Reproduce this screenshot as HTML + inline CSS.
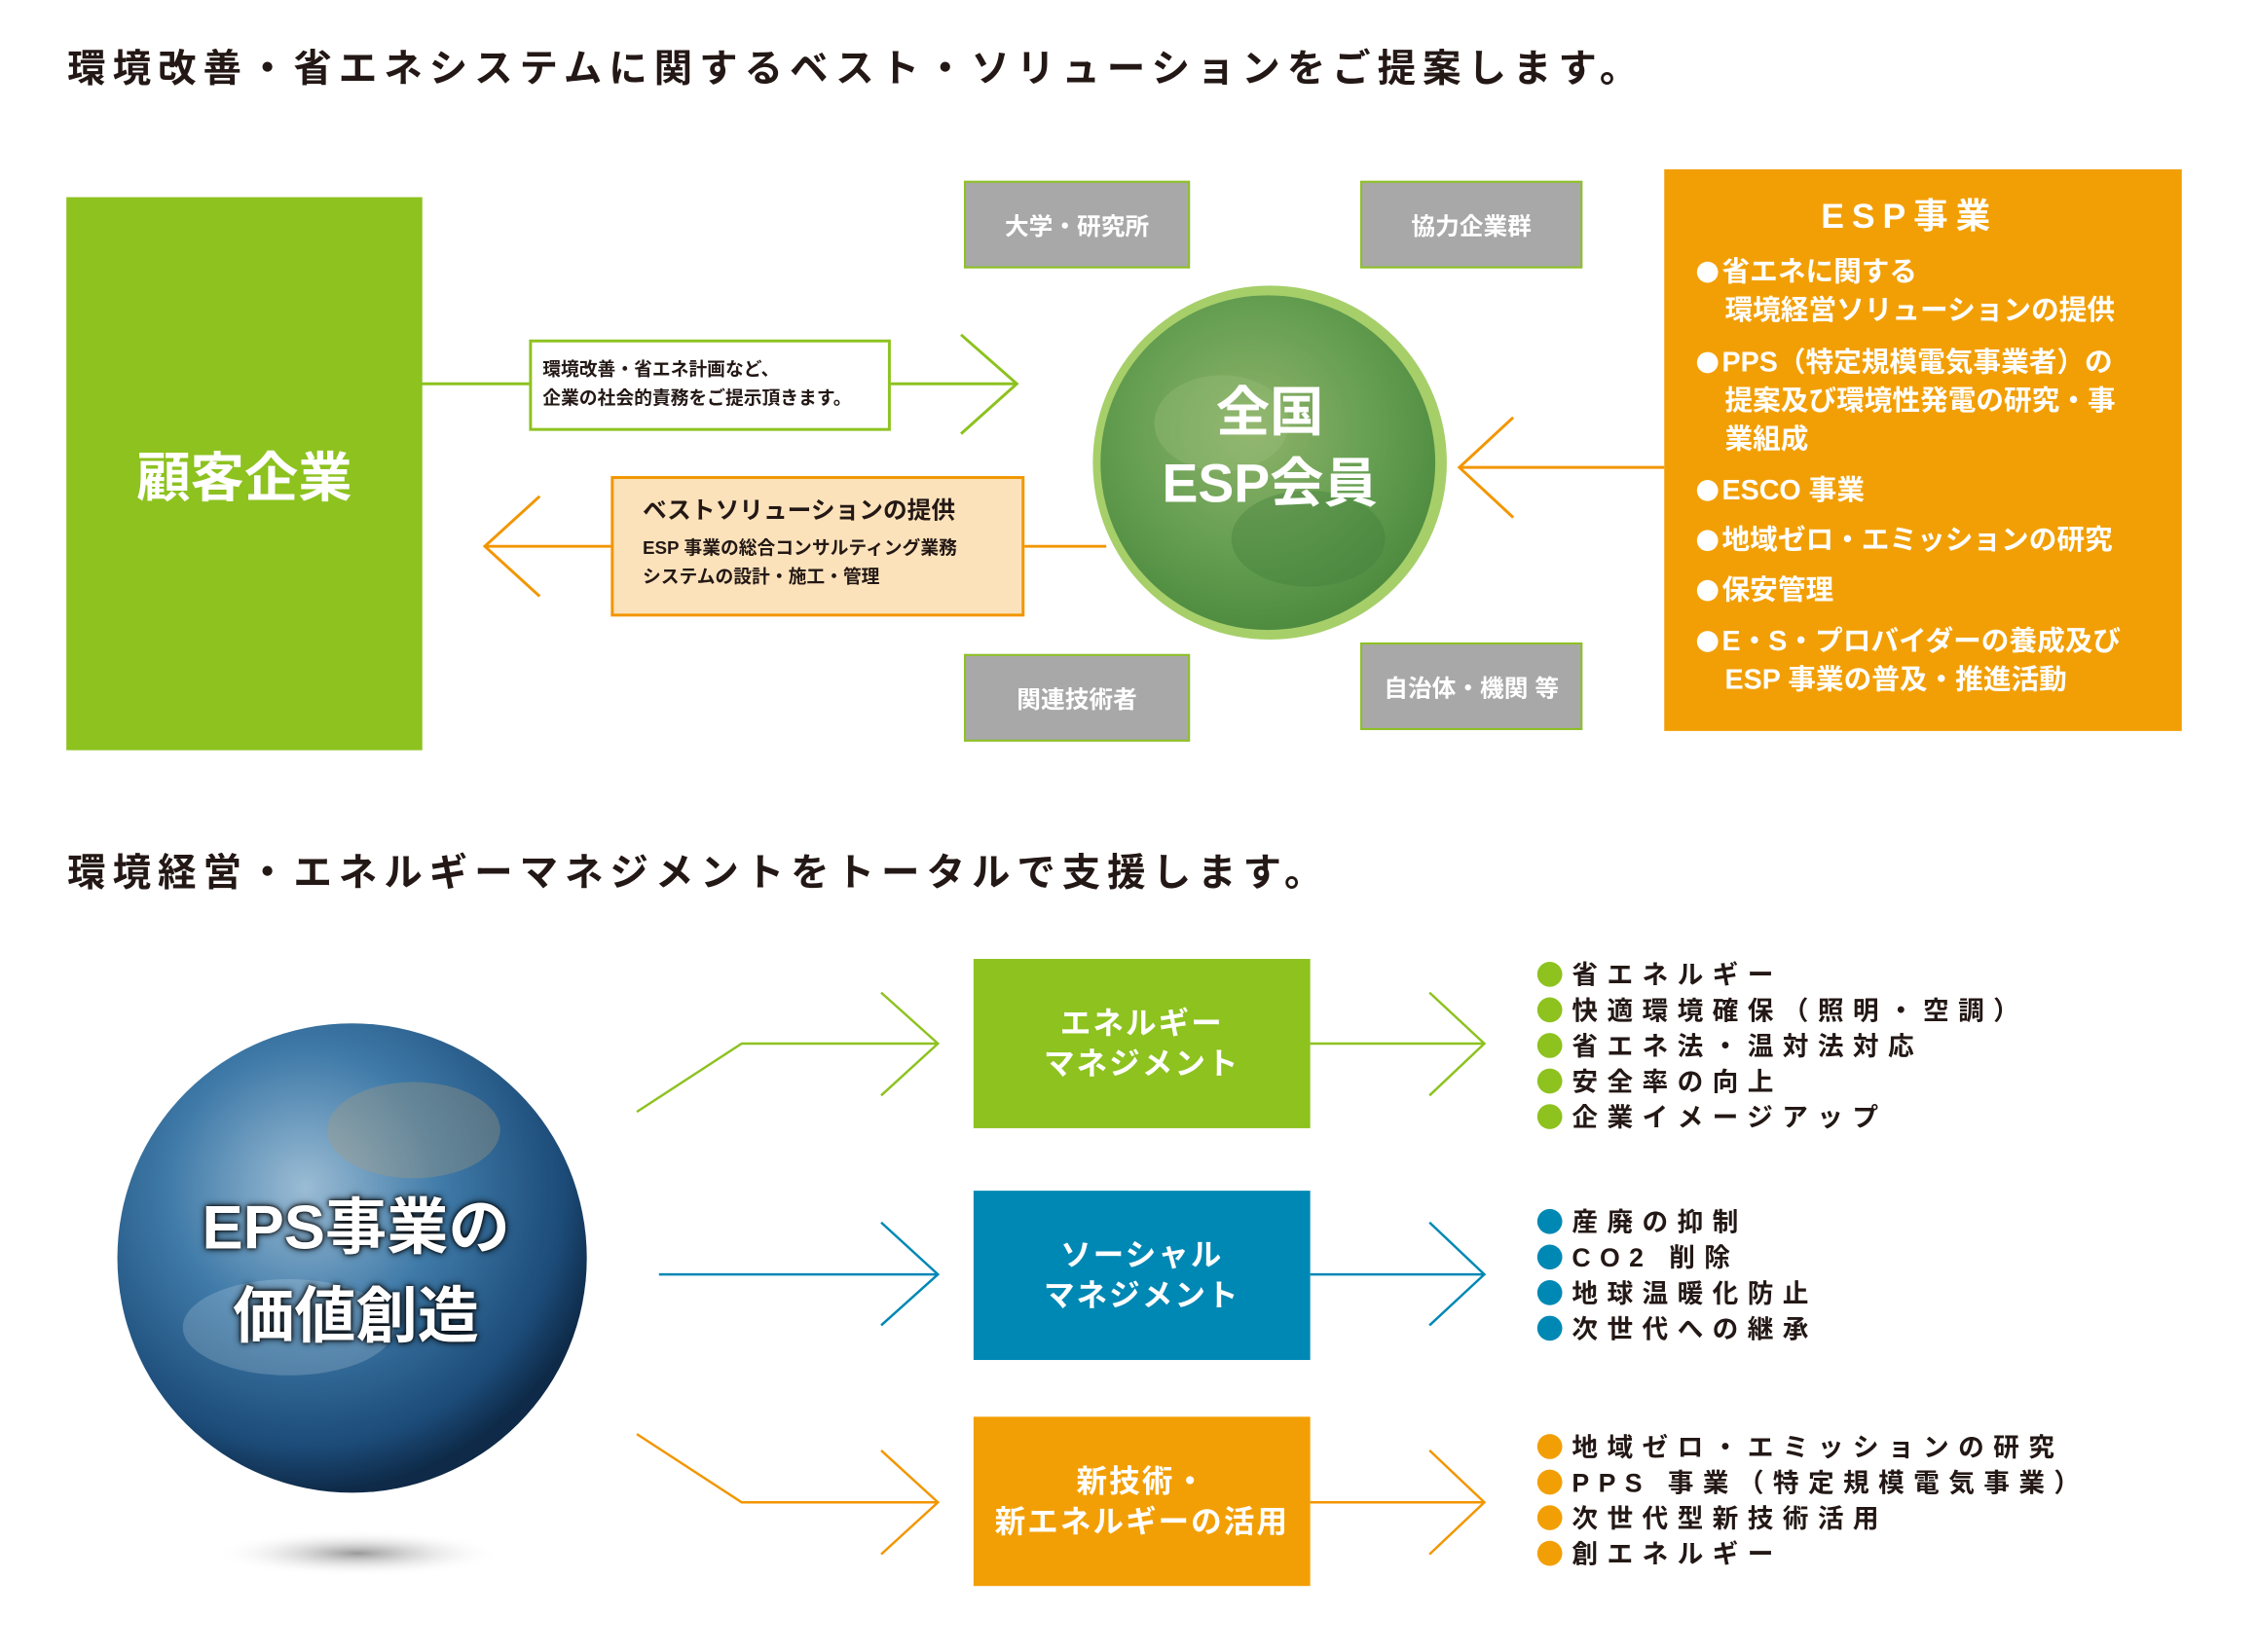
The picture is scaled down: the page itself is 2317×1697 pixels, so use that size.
<!DOCTYPE html>
<html><head><meta charset="utf-8">
<style>
html,body{margin:0;padding:0;background:#fff;}
body{width:2317px;height:1697px;position:relative;overflow:hidden;font-family:"Liberation Sans","Noto Sans CJK JP",sans-serif;font-weight:bold;}
#w{position:absolute;left:0;top:0;width:2317px;height:1697px;transform:scale(0.988);transform-origin:0 0;}
.a{position:absolute;}
.t{color:#231815;font-size:40px;letter-spacing:7px;white-space:nowrap;}
.gray{background:#a7a8a7;border:2px solid #8dc21f;color:#fff;font-size:25px;display:flex;align-items:center;justify-content:center;box-sizing:border-box;}
.esp{color:#fff;font-size:29px;white-space:nowrap;line-height:40px;}
.esp i{display:inline-block;width:22px;height:22px;border-radius:50%;background:#fff;margin-right:4px;vertical-align:-2px;}
.bx{color:#fff;font-size:32px;text-align:center;display:flex;align-items:center;justify-content:center;line-height:42px;letter-spacing:2px;}
.li{font-size:27px;letter-spacing:9.5px;color:#231815;white-space:nowrap;line-height:37px;}
.li span{display:inline-block;width:26px;height:26px;border-radius:50%;margin-right:10px;vertical-align:-3px;}
</style></head><body><div id="w">
<div class="a t" style="left:70px;top:39px;">環境改善・省エネシステムに関するベスト・ソリューションをご提案します。</div>
<div class="a t" style="left:70px;top:875px;">環境経営・エネルギーマネジメントをトータルで支援します。</div>

<svg class="a" style="left:0;top:0" width="2317" height="1697">
<defs>
<radialGradient id="g1" cx="45%" cy="40%" r="60%">
<stop offset="0" stop-color="#8fb36a"/><stop offset="0.6" stop-color="#669f52"/><stop offset="1" stop-color="#4f8c40"/></radialGradient>
<radialGradient id="g2" cx="40%" cy="35%" r="65%">
<stop offset="0" stop-color="#9bbcd4"/><stop offset="0.45" stop-color="#3f7aa8"/><stop offset="0.85" stop-color="#1c4b78"/><stop offset="1" stop-color="#0e2a48"/></radialGradient>
<radialGradient id="sh" cx="50%" cy="50%" r="50%"><stop offset="0" stop-color="#999"/><stop offset="1" stop-color="#fff" stop-opacity="0"/></radialGradient>
</defs>
<g fill="none" stroke="#8dc21f" stroke-width="3">
<line x1="438" y1="399" x2="1057" y2="399"/>
<polyline points="999,348 1057,399 999,451"/>
</g>
<g fill="none" stroke="#f29600" stroke-width="3">
<line x1="504" y1="568" x2="1150" y2="568"/>
<polyline points="561,516 504,568 561,620"/>
<line x1="1517" y1="486" x2="1730" y2="486"/>
<polyline points="1573,434 1517,486 1573,538"/>
</g>
<circle cx="1320" cy="481" r="184" fill="#a6cf6a"/>
<circle cx="1318" cy="481" r="174" fill="url(#g1)"/>
<ellipse cx="1270" cy="440" rx="70" ry="50" fill="#9cbf7a" opacity="0.35"/>
<ellipse cx="1360" cy="560" rx="80" ry="50" fill="#3f7c38" opacity="0.35"/>
<ellipse cx="372" cy="1615" rx="150" ry="24" fill="url(#sh)"/>
<circle cx="366" cy="1308" r="244" fill="url(#g2)"/>
<ellipse cx="430" cy="1175" rx="90" ry="50" fill="#a89a7a" opacity="0.35"/>
<ellipse cx="300" cy="1380" rx="110" ry="50" fill="#e8eef4" opacity="0.2"/>
<g fill="none" stroke="#8dc21f" stroke-width="2.5">
<polyline points="662,1156 771,1085 975,1085"/><polyline points="916,1032 975,1085 916,1139"/>
<line x1="1362" y1="1085" x2="1543" y2="1085"/><polyline points="1486,1032 1543,1085 1486,1139"/>
</g>
<g fill="none" stroke="#0088b4" stroke-width="2.5">
<line x1="685" y1="1325" x2="975" y2="1325"/><polyline points="916,1271 975,1325 916,1378"/>
<line x1="1362" y1="1325" x2="1543" y2="1325"/><polyline points="1486,1271 1543,1325 1486,1378"/>
</g>
<g fill="none" stroke="#f29600" stroke-width="2.5">
<polyline points="662,1491 771,1562 975,1562"/><polyline points="916,1508 975,1562 916,1616"/>
<line x1="1362" y1="1562" x2="1543" y2="1562"/><polyline points="1486,1508 1543,1562 1486,1616"/>
</g>
</svg>

<div class="a" style="left:69px;top:205px;width:370px;height:575px;background:#8dc21f;color:#fff;font-size:56px;display:flex;align-items:center;justify-content:center;">顧客企業</div>

<div class="a" style="left:550px;top:353px;width:376px;height:95px;box-sizing:border-box;border:3px solid #8dc21f;background:#fff;padding:14px 0 0 11px;font-size:19px;line-height:30px;color:#231815;white-space:nowrap;">環境改善・省エネ計画など、<br>企業の社会的責務をご提示頂きます。</div>

<div class="a" style="left:635px;top:495px;width:430px;height:146px;box-sizing:border-box;border:3px solid #f29600;background:#fce2bb;padding:18px 0 0 30px;color:#231815;white-space:nowrap;">
<div style="font-size:25px;line-height:30px;">ベストソリューションの提供</div>
<div style="font-size:19px;line-height:30px;margin-top:10px;">ESP 事業の総合コンサルティング業務<br>システムの設計・施工・管理</div></div>

<div class="a" style="left:1180px;top:392px;width:280px;text-align:center;color:#fff;font-size:56px;line-height:74px;">全国<br>ESP会員</div>

<div class="a gray" style="left:1002px;top:188px;width:235px;height:91px;">大学・研究所</div>
<div class="a gray" style="left:1414px;top:188px;width:231px;height:91px;">協力企業群</div>
<div class="a gray" style="left:1002px;top:680px;width:235px;height:91px;">関連技術者</div>
<div class="a gray" style="left:1414px;top:668px;width:231px;height:91px;">自治体・機関 等</div>

<div class="a" style="left:1730px;top:176px;width:538px;height:584px;background:#f29f05;"></div>
<div class="a" style="left:1730px;top:196px;width:510px;text-align:center;color:#fff;font-size:36px;letter-spacing:8px;">ESP事業</div>
<div class="a esp" style="left:1764px;top:263px;"><i></i>省エネに関する<br>　環境経営ソリューションの提供</div>
<div class="a esp" style="left:1764px;top:357px;"><i></i>PPS（特定規模電気事業者）の<br>　提案及び環境性発電の研究・事<br>　業組成</div>
<div class="a esp" style="left:1764px;top:490px;"><i></i>ESCO 事業</div>
<div class="a esp" style="left:1764px;top:542px;"><i></i>地域ゼロ・エミッションの研究</div>
<div class="a esp" style="left:1764px;top:594px;"><i></i>保安管理</div>
<div class="a esp" style="left:1764px;top:647px;"><i></i>E・S・プロバイダーの養成及び<br>　ESP 事業の普及・推進活動</div>

<div class="a" style="left:140px;top:1230px;width:460px;text-align:center;color:#fff;font-size:64px;line-height:92px;text-shadow:0 0 8px #000,0 0 4px #000;">EPS事業の<br>価値創造</div>

<div class="a bx" style="left:1012px;top:997px;width:350px;height:176px;background:#8dc21f;">エネルギー<br>マネジメント</div>
<div class="a bx" style="left:1012px;top:1238px;width:350px;height:176px;background:#0088b4;">ソーシャル<br>マネジメント</div>
<div class="a bx" style="left:1012px;top:1473px;width:350px;height:176px;background:#f29f05;">新技術・<br>新エネルギーの活用</div>

<div class="a li" style="left:1598px;top:996px;">
<div><span style="background:#8dc21f"></span>省エネルギー</div>
<div><span style="background:#8dc21f"></span>快適環境確保（照明・空調）</div>
<div><span style="background:#8dc21f"></span>省エネ法・温対法対応</div>
<div><span style="background:#8dc21f"></span>安全率の向上</div>
<div><span style="background:#8dc21f"></span>企業イメージアップ</div></div>
<div class="a li" style="left:1598px;top:1253px;">
<div><span style="background:#0088b4"></span>産廃の抑制</div>
<div><span style="background:#0088b4"></span>CO2 削除</div>
<div><span style="background:#0088b4"></span>地球温暖化防止</div>
<div><span style="background:#0088b4"></span>次世代への継承</div></div>
<div class="a li" style="left:1598px;top:1487px;">
<div><span style="background:#f29f05"></span>地域ゼロ・エミッションの研究</div>
<div><span style="background:#f29f05"></span>PPS 事業（特定規模電気事業）</div>
<div><span style="background:#f29f05"></span>次世代型新技術活用</div>
<div><span style="background:#f29f05"></span>創エネルギー</div></div>
</div></body></html>
